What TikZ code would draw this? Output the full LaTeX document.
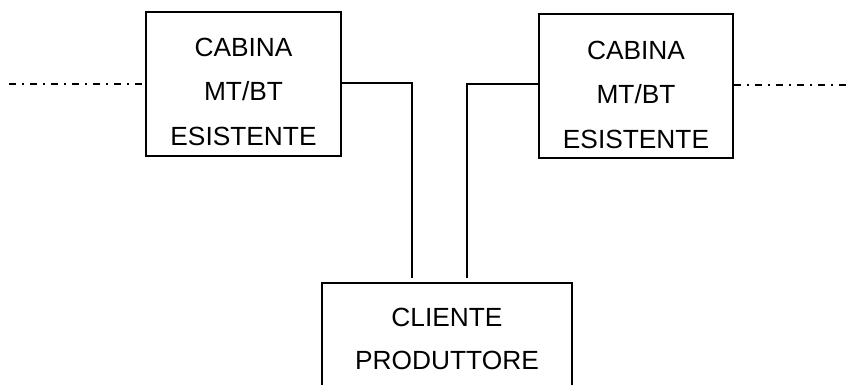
\documentclass[tikz,border=0pt]{standalone}
\usepackage{fontspec}
\setmainfont{Liberation Sans}
\begin{document}
\begin{tikzpicture}[x=1pt,y=-1pt,
  box/.style={draw,line width=1.7pt,minimum width=#1,minimum height=144pt,inner sep=0pt},
  lbl/.style={align=center,inner sep=0pt,font=\fontsize{26.3}{44.5}\selectfont},
  wire/.style={line width=1.7pt},
  dashdot/.style={line width=1.8pt,dash pattern=on 7pt off 6pt on 2pt off 6pt}]
\useasboundingbox (0,0) rectangle (850,385);
% boxes
\node[box=195pt] (lbox) at (243.5,84) {};
\node[box=194pt] (rbox) at (636,86) {};
\node[minimum width=250pt,minimum height=102pt,inner sep=0pt] (cli) at (447,334) {};
\draw[line width=1.7pt] (cli.south west) |- (cli.north) -| (cli.south east);
% texts
\node[lbl] (ltxt) at ([yshift=-7.5pt]lbox.center) {CABINA\\MT/BT\\ESISTENTE};
\node[lbl] (rtxt) at ([yshift=-8.5pt]rbox.center) {CABINA\\MT/BT\\ESISTENTE};
\node[lbl,font=\fontsize{26.3}{43.5}\selectfont] (ctxt) at ([yshift=-5pt]cli.center) {CLIENTE\\PRODUTTORE};
% connector end points
\coordinate (c1) at (412,278);
\coordinate (c2) at (467,278);
\coordinate (dl) at (9,84);
\coordinate (dr) at (850,85);
\draw[wire] ([yshift=1pt]lbox.east) -| (c1);
\draw[wire] ([yshift=2pt]rbox.west) -| (c2);
\draw[dashdot] (dl) -- (lbox.west |- dl);
\draw[dashdot] (rbox.east |- dr) -- (dr);
\end{tikzpicture}
\end{document}
